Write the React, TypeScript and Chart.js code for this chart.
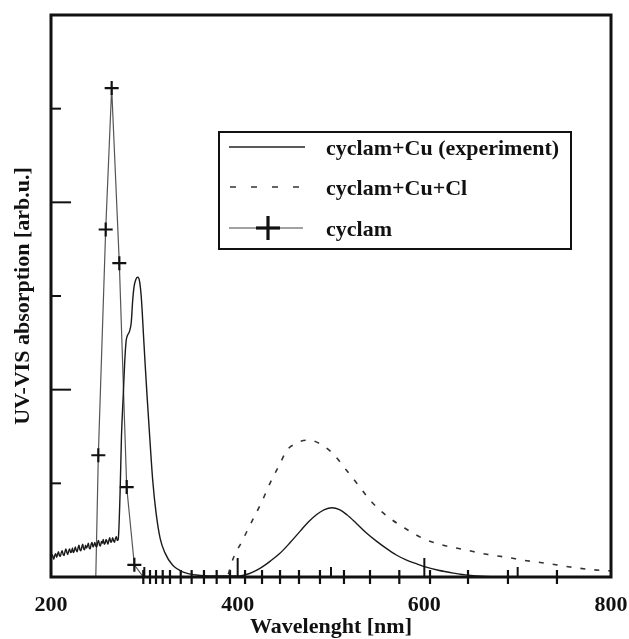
import React, { useEffect, useRef } from "react";
import { Chart, registerables } from "chart.js";

Chart.register(...registerables);

// ---- data ----
const xTickLabels = [200, 400, 600, 800];
const xMajorInnerTicks = [400, 600];
const xMinorInnerTicks = [300, 500, 700];
const yMajorInnerTicks = [2, 4];
const yMinorInnerTicks = [1, 3, 5];

const legendLabels = ["cyclam+Cu (experiment)", "cyclam+Cu+Cl", "cyclam"];

const cuWavelength = [
  200, 201, 202, 203, 204, 205, 206, 207, 208, 209, 210, 211, 212, 213, 214, 215, 216, 217, 218, 219,
  220, 221, 222, 223, 224, 225, 226, 227, 228, 229, 230, 231, 232, 233, 234, 235, 236, 237, 238, 239,
  240, 241, 242, 243, 244, 245, 246, 247, 248, 249, 250, 251, 252, 253, 254, 255, 256, 257, 258, 259,
  260, 261, 262, 263, 264, 265, 266, 267, 268, 269, 270, 271, 272,
  274, 275.5, 277.5, 279, 280.5, 282, 284, 286, 287.5, 289,
  291, 293, 295, 297, 299, 301, 303, 306, 309, 312.5,
  317, 322, 330, 341, 360, 380, 400, 412, 420, 426,
  435, 445, 456, 467, 476, 485, 493, 501, 509, 517,
  527, 538, 549, 560, 570, 581, 592, 602, 615, 631,
  647, 665, 700, 800,
];
const cuAbsorption = [
  0.21, 0.24, 0.22, 0.19, 0.23, 0.25, 0.21, 0.24, 0.27, 0.23, 0.22, 0.26, 0.28, 0.24, 0.23, 0.27, 0.3, 0.26, 0.24, 0.28,
  0.3, 0.26, 0.27, 0.31, 0.26, 0.28, 0.32, 0.29, 0.27, 0.31, 0.34, 0.29, 0.28, 0.32, 0.35, 0.3, 0.29, 0.34, 0.31, 0.33,
  0.36, 0.31, 0.3, 0.35, 0.37, 0.32, 0.34, 0.37, 0.33, 0.32, 0.37, 0.39, 0.34, 0.33, 0.38, 0.36, 0.4, 0.35, 0.36, 0.4,
  0.38, 0.35, 0.39, 0.42, 0.37, 0.38, 0.42, 0.39, 0.37, 0.41, 0.43, 0.39, 0.4,
  0.89, 1.5, 1.96, 2.3, 2.52, 2.58, 2.62, 2.72, 2.95, 3.1,
  3.18, 3.2, 3.15, 2.95, 2.6, 2.25, 1.92, 1.46, 1.03, 0.69,
  0.41, 0.26, 0.13, 0.055, 0.017, 0.01, 0.01, 0.035, 0.07, 0.105,
  0.17, 0.25, 0.365, 0.49, 0.59, 0.67, 0.72, 0.74, 0.72, 0.665,
  0.575, 0.47, 0.38, 0.3, 0.235, 0.18, 0.14, 0.105, 0.072, 0.042,
  0.018, 0.005, 0, 0,
];

const cuClWavelength = [
  390, 395.3, 404.3, 415, 425.7, 434.6, 445.4, 452.5, 461.4, 473.9, 484.7, 500.8, 515, 529.3,
  543.6, 561.4, 579.3, 598.9, 620.3, 645.4, 665, 688.2, 709.7, 731.1, 754.2, 777.5, 800,
];
const cuClAbsorption = [
  0.03, 0.2, 0.375, 0.589, 0.8, 1.0, 1.21, 1.35, 1.42, 1.46, 1.44, 1.33, 1.16, 0.98,
  0.8, 0.64, 0.52, 0.41, 0.34, 0.287, 0.245, 0.21, 0.174, 0.146, 0.11, 0.08, 0.065,
];

const cyclamWavelength = [
  248, 250.7, 258.6, 265.0, 273.2, 281.1, 289.3, 298.9, 306.1, 312.5, 319.7, 327.5, 339, 350.7,
  363.9, 377.5, 391.8, 407.9, 426.1, 445.4, 465.7, 488.2, 513.9, 541.8, 573.2, 606.1, 646.8, 689.6, 742.1,
];
const cyclamAbsorption = [
  0, 1.3, 3.71, 5.22, 3.35, 0.96, 0.13, 0, 0, 0, 0, 0, 0, 0,
  0, 0, 0, 0, 0, 0, 0, 0, 0, 0, 0, 0, 0, 0, 0,
];

const FONT_FAMILY = "'Liberation Serif', 'Times New Roman', Times, serif";
const INK = "#111";

const toPoints = (xs: number[], ys: number[]) => xs.map((x, i) => ({ x, y: ys[i] }));

const decorPlugin = {
  id: "decor",
  afterDatasetsDraw(chart: any) {
    const { ctx, chartArea: a, scales } = chart;
    const xs = scales.x;
    const ys = scales.y;
    ctx.save();
    ctx.strokeStyle = INK;
    ctx.lineWidth = 3;
    ctx.strokeRect(a.left, a.top, a.right - a.left, a.bottom - a.top);

    const seg = (x1: number, y1: number, x2: number, y2: number) => {
      ctx.beginPath();
      ctx.moveTo(x1, y1);
      ctx.lineTo(x2, y2);
      ctx.stroke();
    };
    ctx.lineWidth = 2;
    xMajorInnerTicks.forEach((v) => {
      const p = xs.getPixelForValue(v);
      seg(p, a.bottom, p, a.bottom - 19);
    });
    xMinorInnerTicks.forEach((v) => {
      const p = xs.getPixelForValue(v);
      seg(p, a.bottom, p, a.bottom - 10);
    });
    yMajorInnerTicks.forEach((v) => {
      const p = ys.getPixelForValue(v);
      seg(a.left, p, a.left + 20, p);
    });
    yMinorInnerTicks.forEach((v) => {
      const p = ys.getPixelForValue(v);
      seg(a.left, p, a.left + 10, p);
    });

    // legend box
    const lx = a.left + 168;
    const ly = a.top + 117;
    const lw = 352;
    const lh = 117;
    ctx.fillStyle = "#fff";
    ctx.fillRect(lx, ly, lw, lh);
    ctx.lineWidth = 2;
    ctx.strokeStyle = INK;
    ctx.strokeRect(lx, ly, lw, lh);

    const sx1 = lx + 10;
    const sx2 = lx + 86;
    const rows = [ly + 15, ly + 55, ly + 96];
    ctx.lineWidth = 1.5;
    ctx.strokeStyle = "#222";
    seg(sx1, rows[0], sx2, rows[0]);
    ctx.setLineDash([6, 15]);
    ctx.strokeStyle = "#333";
    seg(sx1 + 1, rows[1], sx2, rows[1]);
    ctx.setLineDash([]);
    ctx.lineWidth = 1.2;
    ctx.strokeStyle = "#444";
    seg(sx1, rows[2], sx2 - 2, rows[2]);
    ctx.lineWidth = 3.2;
    ctx.strokeStyle = INK;
    const cx = lx + 49;
    seg(cx - 12, rows[2], cx + 12, rows[2]);
    seg(cx, rows[2] - 12, cx, rows[2] + 12);

    ctx.fillStyle = INK;
    ctx.font = `bold 22px ${FONT_FAMILY}`;
    ctx.textBaseline = "middle";
    ctx.textAlign = "left";
    legendLabels.forEach((t, i) => {
      ctx.fillText(t, lx + 107, rows[i] + 2);
    });
    ctx.restore();
  },
};

export default function App() {
  const ref = useRef<HTMLCanvasElement | null>(null);

  useEffect(() => {
    if (!ref.current) return;
    const chart = new Chart(ref.current, {
      type: "line",
      data: {
        datasets: [
          {
            label: legendLabels[0],
            data: toPoints(cuWavelength, cuAbsorption),
            borderColor: "#1a1a1a",
            borderWidth: 1.4,
            pointRadius: 0,
            cubicInterpolationMode: "monotone",
            fill: false,
          },
          {
            label: legendLabels[1],
            data: toPoints(cuClWavelength, cuClAbsorption),
            borderColor: "#333",
            borderWidth: 1.6,
            borderDash: [5, 9],
            pointRadius: 0,
            cubicInterpolationMode: "monotone",
            fill: false,
          },
          {
            label: legendLabels[2],
            data: toPoints(cyclamWavelength, cyclamAbsorption),
            borderColor: "#555",
            borderWidth: 1.2,
            pointStyle: "cross",
            pointRadius: (c: any) => (c.dataIndex === 0 ? 0 : 7),
            pointBorderWidth: 2.2,
            pointBorderColor: INK,
            pointBackgroundColor: INK,
            tension: 0,
            clip: false,
            fill: false,
          } as any,
        ],
      },
      options: {
        animation: false,
        responsive: true,
        maintainAspectRatio: false,
        layout: { padding: { top: 15, right: 18, left: 0, bottom: 0 } },
        plugins: {
          legend: { display: false },
          tooltip: { enabled: false },
        },
        scales: {
          x: {
            type: "linear",
            min: 200,
            max: 800,
            afterBuildTicks: (s: any) => {
              s.ticks = xTickLabels.map((v) => ({ value: v }));
            },
            afterFit: (s: any) => {
              s.height = 62;
              s.paddingRight = 0;
              s.paddingLeft = 0;
            },
            grid: { display: false, drawTicks: false },
            border: { display: false },
            ticks: {
              padding: 15,
              color: INK,
              font: { family: FONT_FAMILY, size: 22, weight: "bold" },
              maxRotation: 0,
            },
            title: {
              display: true,
              text: "Wavelenght [nm]",
              color: INK,
              font: { family: FONT_FAMILY, size: 22, weight: "bold", lineHeight: 1 },
              padding: { top: 0, bottom: 1 },
            },
          },
          y: {
            type: "linear",
            min: 0,
            max: 6,
            afterFit: (s: any) => {
              s.width = 51;
            },
            grid: { display: false, drawTicks: false },
            border: { display: false },
            ticks: { display: false },
            title: {
              display: true,
              text: "UV-VIS absorption [arb.u.]",
              color: INK,
              font: { family: FONT_FAMILY, size: 22, weight: "bold", lineHeight: 1 },
              padding: { top: 12, bottom: 0 },
            },
          },
        },
      },
      plugins: [decorPlugin],
    } as any);
    return () => chart.destroy();
  }, []);

  return (
    <div style={{ position: "fixed", left: 0, top: 0, width: "629px", height: "639px", background: "#fff" }}>
      <canvas ref={ref} />
    </div>
  );
}
